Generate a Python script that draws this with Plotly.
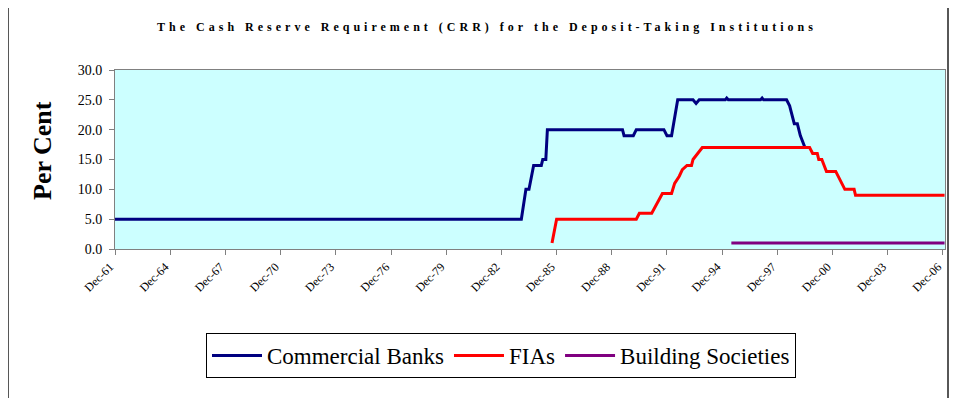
import plotly.graph_objects as go

# ---- data ----
tick_dates = ["1961-12-01", "1964-12-01", "1967-12-01", "1970-12-01", "1973-12-01",
              "1976-12-01", "1979-12-01", "1982-12-01", "1985-12-01", "1988-12-01",
              "1991-12-01", "1994-12-01", "1997-12-01", "2000-12-01", "2003-12-01",
              "2006-12-01"]
tick_labels = ["Dec-61", "Dec-64", "Dec-67", "Dec-70", "Dec-73", "Dec-76", "Dec-79",
               "Dec-82", "Dec-85", "Dec-88", "Dec-91", "Dec-94", "Dec-97", "Dec-00",
               "Dec-03", "Dec-06"]

cb_dates = ["1961-12", "1984-01", "1984-04", "1984-06", "1984-09", "1985-02", "1985-03",
            "1985-05", "1985-06", "1989-07", "1989-08", "1990-02", "1990-04", "1991-10",
            "1991-12", "1992-03", "1992-07", "1993-05", "1993-07", "1993-09", "1995-02",
            "1995-03", "1995-04", "1997-01", "1997-02", "1997-03", "1998-06", "1998-08",
            "1998-09", "1998-10", "1998-11", "1999-01", "1999-02", "1999-03", "1999-06"]
cb_vals = [5, 5, 10, 10, 14, 14, 15, 15, 20, 20, 19, 19, 20, 20, 19, 19, 25, 25, 24.4,
           25, 25, 25.3, 25, 25, 25.3, 25, 25, 24, 23, 22, 21, 21, 20, 19, 17]

fia_dates = ["1985-09", "1985-12", "1990-04", "1990-06", "1991-02", "1991-05", "1991-09",
             "1992-03", "1992-05", "1992-08", "1992-10", "1993-01", "1993-04", "1993-05",
             "1993-08", "1993-11", "1999-09", "1999-11", "2000-02", "2000-03", "2000-05",
             "2000-08", "2001-02", "2001-04", "2001-06", "2001-08", "2002-02", "2002-03",
             "2007-01"]
fia_vals = [1, 5, 5, 6, 6, 7.5, 9.3, 9.3, 11, 12.2, 13.3, 14, 14, 15, 16, 17, 17, 16, 16,
            15, 15, 13, 13, 12, 11, 10, 10, 9, 9]

bs_dates = ["1995-06", "2007-01"]
bs_vals = [1, 1]

title_text = "The Cash Reserve Requirement (CRR) for the Deposit-Taking Institutions"
y_title = "Per Cent"

# ---- figure ----
SERIF = "Liberation Serif"
fig = go.Figure()
fig.add_trace(go.Scatter(x=cb_dates, y=cb_vals, mode="lines", name="Commercial Banks",
                         line=dict(color="#000080", width=3)))
fig.add_trace(go.Scatter(x=fia_dates, y=fia_vals, mode="lines", name="FIAs",
                         line=dict(color="#FF0000", width=3)))
fig.add_trace(go.Scatter(x=bs_dates, y=bs_vals, mode="lines", name="Building Societies",
                         line=dict(color="#800080", width=3)))

OFF = 8  # page body margin
W, H = 957 - 2 * OFF, 406 - 2 * OFF
# plot area in page pixels: x 115..945, y 70..249
L, T = 115 - OFF, 70 - OFF
R = W - (945 - OFF)
B = H - (249 - OFF)
pw, ph = W - L - R, H - T - B

def px_x(p):
    return (p - OFF - L) / pw

def px_y(p):
    return (H - B - (p - OFF)) / ph

fig.update_layout(
    width=W, height=H,
    margin=dict(l=L, r=R, t=T, b=B, pad=0),
    paper_bgcolor="white",
    plot_bgcolor="#CCFFFF",
    font=dict(family=SERIF, color="black"),
    title=dict(
        text='<b><span style="letter-spacing:4px">' + title_text + '</span></b>',
        x=(487 - OFF) / W, xanchor="center", xref="container",
        y=1 - (27 - OFF) / H, yanchor="middle", yref="container",
        font=dict(family=SERIF, size=12, color="black"),
    ),
    showlegend=True,
    legend=dict(
        orientation="h",
        x=px_x(501), xanchor="center",
        y=px_y(333), yanchor="top",
        bordercolor="black", borderwidth=1, bgcolor="white",
        font=dict(family=SERIF, size=23, color="black"),
        itemwidth=50,
    ),
    xaxis=dict(
        type="date",
        range=["1961-12-01", "2007-01-10"],
        tickmode="array", tickvals=tick_dates, ticktext=tick_labels,
        tickangle=-45, tickfont=dict(family=SERIF, size=12, color="black"),
        ticklabeloverflow="allow", ticklabelshift=-5,
        ticks="outside", ticklen=5, tickcolor="#808080",
        showline=True, linecolor="#808080", linewidth=1, mirror=True,
        showgrid=False, zeroline=False,
    ),
    yaxis=dict(
        range=[0, 30], dtick=5, tick0=0, tickformat=".1f",
        tickfont=dict(family=SERIF, size=14, color="black"),
        ticks="outside", ticklen=5, tickcolor="#808080",
        ticklabelstandoff=4,
        showline=True, linecolor="#808080", linewidth=1, mirror=True,
        showgrid=False, zeroline=False,
    ),
    annotations=[dict(
        text="<b>" + y_title + "</b>", textangle=-90,
        xref="paper", yref="paper", x=px_x(42), y=px_y(151),
        xanchor="center", yanchor="middle", showarrow=False,
        font=dict(family=SERIF, size=26, color="black"),
    )],
    shapes=[dict(type="rect", xref="paper", yref="paper",
                 x0=px_x(8), x1=px_x(948), y0=px_y(412), y1=px_y(7),
                 line=dict(color="#202020", width=1.5), fillcolor="rgba(0,0,0,0)",
                 layer="below")],
)

fig.write_html("out.html")
